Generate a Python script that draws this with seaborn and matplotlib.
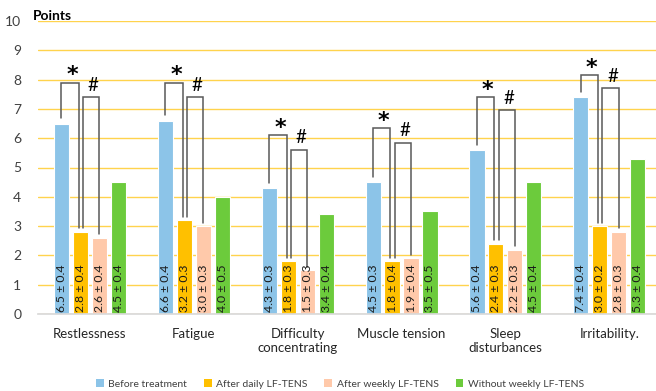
import matplotlib
matplotlib.use("Agg")
import matplotlib.pyplot as plt
import seaborn as sns
import pandas as pd
from matplotlib.patches import Patch

# Symptom categories and treatment groups
categories = ["Restlessness", "Fatigue", "Difficulty\nconcentrating",
              "Muscle tension", "Sleep\ndisturbances", "Irritability."]
groups = ["Before treatment", "After daily LF-TENS",
          "After weekly LF-TENS", "Without weekly LF-TENS"]

# Mean scores (points) and their errors
before_mean = [6.5, 6.6, 4.3, 4.5, 5.6, 7.4]
before_err = [0.4, 0.4, 0.3, 0.3, 0.4, 0.4]
daily_mean = [2.8, 3.2, 1.8, 1.8, 2.4, 3.0]
daily_err = [0.4, 0.3, 0.3, 0.4, 0.3, 0.2]
weekly_mean = [2.6, 3.0, 1.5, 1.9, 2.2, 2.8]
weekly_err = [0.4, 0.3, 0.3, 0.4, 0.3, 0.3]
without_mean = [4.5, 4.0, 3.4, 3.5, 4.5, 5.3]
without_err = [0.4, 0.5, 0.4, 0.5, 0.4, 0.4]

# Heights of the significance brackets (* before vs daily, # daily vs weekly)
star_top = [7.9, 7.9, 6.1, 6.35, 7.4, 8.15]
hash_top = [7.4, 7.4, 5.6, 5.85, 6.95, 7.7]

palette = ["#8CC4E8", "#FFC000", "#FFC9AA", "#6CCB3C"]

means = [before_mean, daily_mean, weekly_mean, without_mean]
errs = [before_err, daily_err, weekly_err, without_err]
rows = []
for g, m, e in zip(groups, means, errs):
    for c, mv, ev in zip(categories, m, e):
        rows.append({"category": c, "group": g, "mean": mv, "err": ev})
df = pd.DataFrame(rows)

sns.set_theme(style="white")
plt.rcParams["font.family"] = ["Lato", "DejaVu Sans"]

fig = plt.figure(figsize=(6.56, 3.91), dpi=100)
ax = fig.add_axes([38 / 656, 1 - 314 / 391, 1 - 38 / 656, (314 - 21) / 391])

sns.barplot(data=df, x="category", y="mean", hue="group", order=categories,
            hue_order=groups, palette=palette, saturation=1, width=0.73,
            gap=0.2, errorbar=None, edgecolor="white", linewidth=0.8, ax=ax,
            legend=False, zorder=3)

ax.set_ylim(0, 10)
ax.set_xlim(-0.5, 5.45)
ax.set_yticks(range(0, 11))
ax.yaxis.grid(True, color="#FFD34D", linewidth=1.0, zorder=0)
ax.xaxis.grid(False)
for s in ["top", "right", "left"]:
    ax.spines[s].set_visible(False)
ax.spines["bottom"].set_color("#D9D9D9")
ax.spines["bottom"].set_zorder(4)
ax.tick_params(axis="y", length=0, pad=12, labelsize=10, labelcolor="#404040")
ax.tick_params(axis="x", length=0, pad=10, labelsize=9.5, labelcolor="#262626")
ax.set_xlabel("")
ax.set_ylabel("")

# Value labels written upright inside each bar
for cont, m, e in zip(ax.containers, means, errs):
    for bar, mv, ev in zip(cont, m, e):
        xc = bar.get_x() + bar.get_width() / 2
        ax.text(xc, 0.08, f"{mv:.1f} ± {ev:.1f}", rotation=90, ha="center",
                va="bottom", fontsize=8.8, color="#1a1a1a", zorder=5)

# Significance brackets
c_before, c_daily, c_weekly = ax.containers[0], ax.containers[1], ax.containers[2]
for i in range(len(categories)):
    b0, b1, b2 = c_before[i], c_daily[i], c_weekly[i]
    x0 = b0.get_x() + b0.get_width() / 2
    x1 = b1.get_x() + b1.get_width() / 2
    x2 = b2.get_x() + b2.get_width() / 2
    xa = x1 - 0.015
    xb = x1 + 0.025
    h0, h1, h2 = b0.get_height(), b1.get_height(), b2.get_height()
    ax.plot([x0, x0, xa, xa], [h0 + 0.18, star_top[i], star_top[i], h1 + 0.12],
            color="#595959", lw=1.1, zorder=4, solid_joinstyle="miter")
    ax.plot([xb, xb, x2, x2], [h1 + 0.12, hash_top[i], hash_top[i], h2 + 0.12],
            color="#595959", lw=1.1, zorder=4, solid_joinstyle="miter")
    ax.text((x0 + xa) / 2 + 0.02, star_top[i] - 0.1, "*", ha="center",
            va="bottom", fontsize=16, fontweight="bold",
            fontfamily="DejaVu Sans", color="black", zorder=5)
    ax.text((xb + x2) / 2 + 0.02, hash_top[i] + 0.12, "#", ha="center",
            va="bottom", fontsize=13.5, color="black", zorder=5)

fig.text(33 / 656, 1 - 16 / 391, "Points", fontsize=10, fontweight="bold",
         ha="left", va="center", color="black")

handles = [Patch(facecolor=c, edgecolor="none") for c in palette]
fig.legend(handles, groups, loc="center", bbox_to_anchor=(340 / 656, 1 - 384 / 391),
           ncol=4, frameon=False, fontsize=7.5, handlelength=0.75, handleheight=0.75,
           handletextpad=0.45, columnspacing=1.6, labelcolor="#404040")

fig.savefig("out.png", dpi=100)
